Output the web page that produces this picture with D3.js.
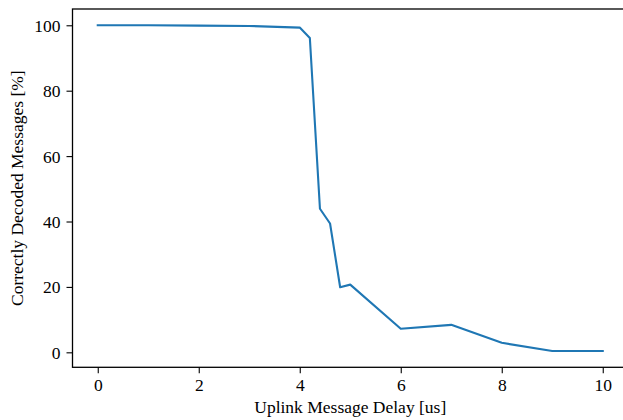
<!DOCTYPE html>
<html><head><meta charset="utf-8">
<script src="https://cdn.jsdelivr.net/npm/d3@7"></script>
<style>body{margin:0;background:#fff}svg{display:block}text{font-family:"Liberation Serif","DejaVu Serif",serif;fill:#000}</style>
</head><body>
<svg id="c" width="623" height="420"></svg>
<script>
const delays = [0, 1, 2, 3, 4, 4.2, 4.4, 4.6, 4.8, 5, 6, 7, 8, 9, 10];
const decoded = [100, 100, 99.9, 99.8, 99.3, 96.1, 43.9, 39.4, 19.9, 20.7, 7.2, 8.4, 2.9, 0.4, 0.4];
const xTicks = [0, 2, 4, 6, 8, 10];
const yTicks = [0, 20, 40, 60, 80, 100];
const xLabel = "Uplink Message Delay [us]";
const yLabel = "Correctly Decoded Messages [%]";

const svg = d3.select("#c");
const L = 72.5, R = 628, T = 9, B = 367.3;
const x = d3.scaleLinear().domain([-0.5, 10.5]).range([L, R]);
const ymin = 0.4, ymax = 100, pad = (ymax - ymin) * 0.05;
const y = d3.scaleLinear().domain([ymin - pad, ymax + pad]).range([B, T]);

const fs = "17.5px";
const xa = svg.append("g").attr("transform", `translate(0,${B})`)
  .call(d3.axisBottom(x).tickValues(xTicks).tickSize(6).tickPadding(5).tickFormat(d3.format("d")));
const ya = svg.append("g").attr("transform", `translate(${L},0)`)
  .call(d3.axisLeft(y).tickValues(yTicks).tickSize(6).tickPadding(6).tickFormat(d3.format("d")));
[xa, ya].forEach(g => {
  g.select(".domain").remove();
  g.selectAll(".tick line").attr("stroke", "#000").attr("stroke-width", 1.1);
  g.selectAll(".tick text").attr("font-size", fs).attr("font-family", null);
});
ya.selectAll(".tick text").attr("dy", "0.34em");

// frame
svg.append("rect").attr("x", L).attr("y", T).attr("width", R - L).attr("height", B - T)
  .attr("fill", "none").attr("stroke", "#000").attr("stroke-width", 1.3);

const line = d3.line().x((d, i) => x(delays[i])).y(d => y(d));
svg.append("path").datum(decoded).attr("d", line)
  .attr("fill", "none").attr("stroke", "#1f77b4").attr("stroke-width", 2.1)
  .attr("stroke-linejoin", "round").attr("stroke-linecap", "square");

svg.append("text").attr("x", (L + R) / 2).attr("y", 413).attr("text-anchor", "middle")
  .attr("font-size", fs).text(xLabel);
svg.append("text").attr("transform", `translate(22.5,${(T + B) / 2}) rotate(-90)`)
  .attr("text-anchor", "middle").attr("font-size", fs).text(yLabel);
</script>
</body></html>
